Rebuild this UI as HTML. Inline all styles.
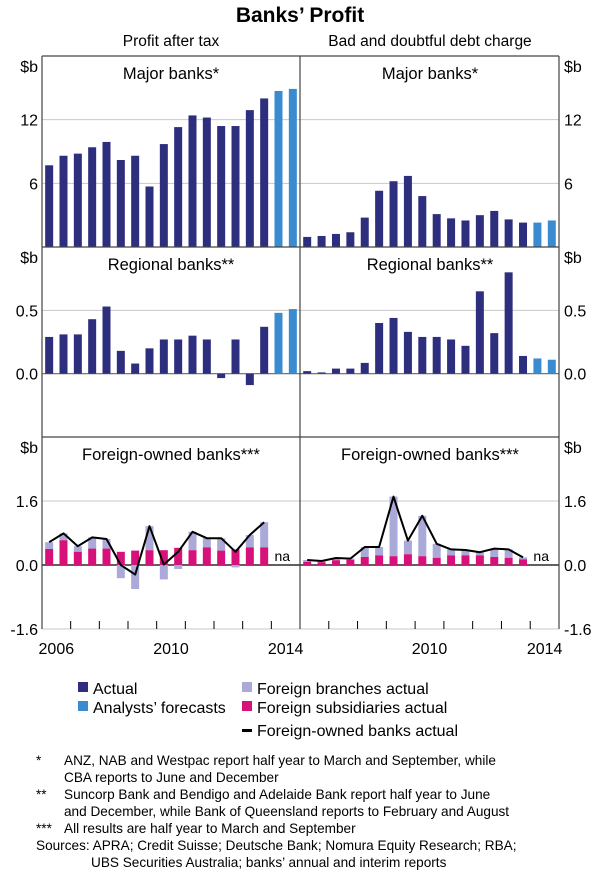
<!DOCTYPE html>
<html><head><meta charset="utf-8"><style>
body{margin:0;background:#fff;}
svg{display:block;font-family:"Liberation Sans",Arial,sans-serif;}
</style></head><body>
<svg id="c" width="600" height="872" viewBox="0 0 600 872">
<text x="300" y="22" text-anchor="middle" font-size="21" font-weight="bold" fill="#000">Banks’ Profit</text>
<text x="171" y="46" text-anchor="middle" font-size="15.5">Profit after tax</text>
<text x="430" y="46" text-anchor="middle" font-size="15.5">Bad and doubtful debt charge</text>
<g id="plots"></g>
<g font-size="16">
<rect x="78" y="682" width="10" height="10" fill="#2e2e7e"/>
<text x="93" y="694">Actual</text>
<rect x="78" y="701" width="10" height="10" fill="#3a8bd0"/>
<text x="93" y="713">Analysts’ forecasts</text>
<rect x="242" y="682" width="10" height="10" fill="#aaa9d8"/>
<text x="257" y="694">Foreign branches actual</text>
<rect x="242" y="701" width="10" height="10" fill="#d6127a"/>
<text x="257" y="713">Foreign subsidiaries actual</text>
<rect x="242" y="729" width="10" height="3" fill="#000"/>
<text x="257" y="736">Foreign-owned banks actual</text>
</g>
<g font-size="13.6">
<text x="36" y="765">*</text><text x="64" y="765">ANZ, NAB and Westpac report half year to March and September, while</text>
<text x="64" y="782">CBA reports to June and December</text>
<text x="36" y="799">**</text><text x="64" y="799">Suncorp Bank and Bendigo and Adelaide Bank report half year to June</text>
<text x="64" y="816">and December, while Bank of Queensland reports to February and August</text>
<text x="36" y="833">***</text><text x="64" y="833">All results are half year to March and September</text>
<text x="36" y="850">Sources: APRA; Credit Suisse; Deutsche Bank; Nomura Equity Research; RBA;</text>
<text x="91" y="867">UBS Securities Australia; banks’ annual and interim reports</text>
</g>
</svg>
<script>
const majorProfit=[7.7,8.6,8.8,9.4,9.9,8.2,8.6,5.7,9.7,11.3,12.4,12.2,11.4,11.4,12.9,14.0,14.7,14.9];
const majorBad=[0.95,1.04,1.23,1.39,2.77,5.3,6.2,6.7,4.8,3.1,2.7,2.5,3.0,3.4,2.6,2.3,2.3,2.5];
const regionalProfit=[0.29,0.31,0.31,0.43,0.53,0.18,0.08,0.20,0.27,0.27,0.30,0.27,-0.035,0.27,-0.09,0.37,0.48,0.51];
const regionalBad=[0.02,0.01,0.04,0.04,0.085,0.40,0.44,0.33,0.29,0.29,0.27,0.22,0.65,0.32,0.80,0.14,0.12,0.11];
const forecastFrom=16;
const foreignProfitSubs=[0.40,0.62,0.33,0.41,0.41,0.33,0.36,0.37,0.37,0.43,0.37,0.44,0.36,0.39,0.44,0.44];
const foreignProfitBranch=[0.17,0.17,0.14,0.28,0.24,-0.33,-0.60,0.60,-0.36,-0.10,0.46,0.23,0.31,-0.06,0.31,0.63];
const foreignBadSubs=[0.08,0.07,0.12,0.13,0.20,0.24,0.22,0.27,0.22,0.18,0.24,0.24,0.24,0.20,0.18,0.14];
const foreignBadBranch=[0.045,0.03,0.055,0.03,0.25,0.21,1.49,0.34,1.01,0.35,0.15,0.135,0.08,0.21,0.21,0.05];
const yearLabelsLeft=["2006","2010"];
const yearLabelsRight=["2010","2014"];
const ticksMajor=[6,12], ticksRegional=[0.0,0.5], ticksForeign=[-1.6,0.0,1.6];

const NS="http://www.w3.org/2000/svg";
const G=document.getElementById('plots');
function el(tag,attrs,parent){const e=document.createElementNS(NS,tag);for(const k in attrs)e.setAttribute(k,attrs[k]);(parent||G).appendChild(e);return e;}
const L0=42,MID=300,R1=559,NSLOT=18;
const panels=[{top:56,bot:247,min:0,max:18},{top:247,bot:437,min:-0.5,max:1.0},{top:437,bot:629,min:-1.6,max:3.2}];
function y(p,v){const P=panels[p];return P.bot-(v-P.min)/(P.max-P.min)*(P.bot-P.top);}
function x(side,i){const x0=side?MID:L0;const w=(side?R1-MID:MID-L0)/NSLOT;return x0+w*(i+0.5);}
const BW=8;
function fmt(v,p){return p==0?String(v):v.toFixed(1);}
// grids
const ticks=[ticksMajor,ticksRegional,ticksForeign];
ticks.forEach((t,p)=>{t.forEach(v=>{
  const yy=y(p,v);
  const g=el('line',{x1:L0,x2:R1,y1:yy,y2:yy,stroke:v==0?(p==2?'#000':'#666'):'#c8c8c8','stroke-width':v==0?1.2:1});
  
  
  const a=el('text',{x:38,y:yy+6,'text-anchor':'end','font-size':16});a.textContent=fmt(v,p);
  
  
  const b=el('text',{x:564,y:yy+6,'font-size':16});b.textContent=fmt(v,p);
  
  
});
  const u1=el('text',{x:38,y:panels[p].top+16,'text-anchor':'end','font-size':16});u1.textContent='$b';
  
  
  const u2=el('text',{x:564,y:panels[p].top+16,'font-size':16});u2.textContent='$b';
  
  
});
const titles=["Major banks*","Regional banks**","Foreign-owned banks***"];
titles.forEach((t,p)=>{[171,430].forEach(cx=>{const e=el('text',{x:cx,y:panels[p].top+23,'text-anchor':'middle','font-size':16.5});e.textContent=t;
  
  });});
function bar(side,p,i,v0,v1,fill){const a=y(p,v0),b=y(p,v1);const r=el('rect',{x:x(side,i)-BW/2,y:Math.min(a,b),width:BW,height:Math.abs(a-b),fill:fill});
  
  }
[[majorProfit,majorBad],[regionalProfit,regionalBad]].forEach((pair,p)=>{pair.forEach((arr,side)=>{arr.forEach((v,i)=>bar(side,p,i,0,v,i>=forecastFrom?'#3a8bd0':'#2e2e7e'));});});
[[foreignProfitSubs,foreignProfitBranch],[foreignBadSubs,foreignBadBranch]].forEach(([s,b],side)=>{
  const pts=[];
  s.forEach((sv,i)=>{const bv=b[i];
    if(bv>=0)bar(side,2,i,sv,sv+bv,'#aaa9d8');else bar(side,2,i,0,bv,'#aaa9d8');
    bar(side,2,i,0,sv,'#d6127a');
    pts.push(x(side,i).toFixed(1)+','+y(2,sv+bv).toFixed(1));});
  const pl=el('polyline',{points:pts.join(' '),fill:'none',stroke:'#000','stroke-width':2,'stroke-linejoin':'round'});
  
  
  const na=el('text',{x:x(side,16)-4,y:y(2,0)-4,'font-size':14});na.textContent='na';
  
  
});
// frame
[[L0,56,L0,629],[MID,56,MID,629],[R1,56,R1,629],[L0,56,R1,56],[L0,247,R1,247],[L0,437,R1,437]].forEach(c=>{const f=el('line',{x1:c[0],y1:c[1],x2:c[2],y2:c[3],stroke:'#444','stroke-width':1.2});
  
  });
// x ticks & labels
for(let side=0;side<2;side++){const x0=side?MID:L0;const yw=(side?R1-MID:MID-L0)/9;
  for(let k=1;k<9;k++){const t=el('line',{x1:x0+k*yw,x2:x0+k*yw,y1:629,y2:621,stroke:'#000','stroke-width':1});
    
    }
  const labs=side?yearLabelsRight:yearLabelsLeft;
  labs.forEach(l=>{const k=+l-2006;const e=el('text',{x:x0+(k+0.5)*yw,y:654,'text-anchor':'middle','font-size':16});e.textContent=l;
    
    });
}
const e14=el('text',{x:L0+8.5*(MID-L0)/9,y:654,'text-anchor':'middle','font-size':16});e14.textContent='2014';


const e06=el('text',{x:MID+0.5*(R1-MID)/9-14,y:654,'text-anchor':'middle','font-size':16});
</script>
</body></html>
